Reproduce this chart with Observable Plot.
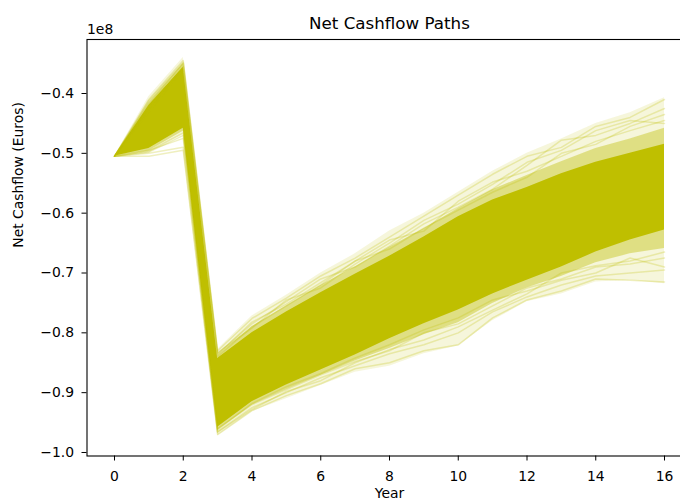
<!DOCTYPE html>
<html><head><meta charset="utf-8">
<script src="https://cdn.jsdelivr.net/npm/d3@7"></script>
<script src="https://cdn.jsdelivr.net/npm/@observablehq/plot@0.6"></script>
<style>
html,body{margin:0;padding:0;overflow:hidden;background:#fff;width:680px;height:502px}
#chart{width:680px;height:502px;overflow:hidden;position:relative}
</style></head><body><div id="chart"></div>
<script>
// Values in units of 1e8 Euros (axis offset "1e8")
const years = [0,1,2,3,4,5,6,7,8,9,10,11,12,13,14,15,16];
const xTicks = [0,2,4,6,8,10,12,14,16];
const yTicks = [-1.0,-0.9,-0.8,-0.7,-0.6,-0.5,-0.4];

// envelopes of the simulated paths
const faintHi = [-0.505,-0.405,-0.340,-0.828,-0.772,-0.737,-0.700,-0.668,-0.630,-0.600,-0.565,-0.530,-0.500,-0.476,-0.450,-0.432,-0.407];
const midHi   = [-0.505,-0.415,-0.350,-0.838,-0.790,-0.755,-0.721,-0.690,-0.657,-0.626,-0.592,-0.561,-0.537,-0.514,-0.492,-0.476,-0.458];
const coreHi  = [-0.505,-0.420,-0.356,-0.843,-0.800,-0.765,-0.733,-0.702,-0.672,-0.640,-0.606,-0.578,-0.557,-0.534,-0.515,-0.500,-0.485];
const coreLo  = [-0.505,-0.492,-0.458,-0.958,-0.915,-0.887,-0.862,-0.837,-0.810,-0.785,-0.762,-0.735,-0.712,-0.690,-0.665,-0.645,-0.628];
const midLo   = [-0.505,-0.496,-0.463,-0.963,-0.921,-0.895,-0.871,-0.847,-0.826,-0.803,-0.783,-0.751,-0.725,-0.706,-0.683,-0.668,-0.659];
const faintLo = [-0.505,-0.500,-0.468,-0.972,-0.932,-0.910,-0.888,-0.866,-0.856,-0.835,-0.822,-0.780,-0.748,-0.735,-0.715,-0.712,-0.718];

// individual outlying paths
const pathA = [-0.505,-0.410,-0.345,-0.830,-0.776,-0.742,-0.705,-0.675,-0.640,-0.605,-0.570,-0.535,-0.505,-0.490,-0.455,-0.440,-0.410];
const pathB = [-0.505,-0.425,-0.355,-0.835,-0.785,-0.748,-0.710,-0.690,-0.655,-0.618,-0.590,-0.560,-0.520,-0.478,-0.470,-0.450,-0.425];
const pathC = [-0.505,-0.430,-0.360,-0.840,-0.790,-0.755,-0.720,-0.680,-0.645,-0.630,-0.580,-0.548,-0.530,-0.505,-0.480,-0.462,-0.445];
const pathD = [-0.505,-0.505,-0.495,-0.970,-0.930,-0.905,-0.885,-0.860,-0.850,-0.830,-0.820,-0.775,-0.745,-0.730,-0.710,-0.712,-0.715];
const pathE = [-0.505,-0.500,-0.490,-0.965,-0.925,-0.900,-0.875,-0.855,-0.835,-0.820,-0.800,-0.765,-0.740,-0.720,-0.705,-0.700,-0.695];
const pathF = [-0.505,-0.495,-0.475,-0.960,-0.920,-0.895,-0.870,-0.848,-0.830,-0.800,-0.785,-0.755,-0.725,-0.710,-0.690,-0.685,-0.675];
const pathG = [-0.505,-0.418,-0.350,-0.836,-0.782,-0.752,-0.716,-0.680,-0.660,-0.625,-0.595,-0.565,-0.540,-0.500,-0.485,-0.455,-0.435];
const pathH = [-0.505,-0.412,-0.348,-0.833,-0.792,-0.745,-0.725,-0.685,-0.650,-0.612,-0.585,-0.552,-0.515,-0.495,-0.462,-0.445,-0.450];
const pathI = [-0.505,-0.498,-0.470,-0.962,-0.918,-0.890,-0.868,-0.842,-0.820,-0.795,-0.775,-0.745,-0.730,-0.712,-0.700,-0.675,-0.690];
const pathJ = [-0.505,-0.496,-0.466,-0.966,-0.928,-0.898,-0.880,-0.850,-0.828,-0.812,-0.790,-0.762,-0.735,-0.700,-0.688,-0.680,-0.665];

const COLOR = "#bfbf00";
const band = years.map((x, i) => ({year: x, faintHi: faintHi[i], faintLo: faintLo[i], midHi: midHi[i], midLo: midLo[i], coreHi: coreHi[i], coreLo: coreLo[i]}));
const paths = [pathA, pathB, pathC, pathD, pathE, pathF, pathG, pathH, pathI, pathJ]
  .flatMap((p, k) => p.map((v, i) => ({id: k, year: years[i], value: v})));

const chart = Plot.plot({
  width: 700,
  height: 502,
  marginLeft: 86.5,
  marginRight: 8.5,
  marginTop: 39,
  marginBottom: 46.5,
  style: {fontFamily: "DejaVu Sans", fontSize: "13.9px", color: "#000", background: "#fff", maxWidth: "none", overflow: "visible"},
  x: {domain: [-0.8, 16.8], ticks: xTicks, tickSize: 5, tickPadding: 10, tickFormat: d3.format("d"), label: null},
  y: {domain: [-1.00585, -0.30974], ticks: yTicks, tickSize: 5, tickPadding: 8, tickFormat: d3.format(".1f"), label: null},
  marks: [
    Plot.areaY(band, {x: "year", y1: "faintLo", y2: "faintHi", fill: COLOR, fillOpacity: 0.14}),
    Plot.areaY(band, {x: "year", y1: "midLo", y2: "midHi", fill: COLOR, fillOpacity: 0.4}),
    Plot.areaY(band, {x: "year", y1: "coreLo", y2: "coreHi", fill: COLOR, fillOpacity: 1}),
    Plot.line(paths, {x: "year", y: "value", z: "id", stroke: COLOR, strokeOpacity: 0.25, strokeWidth: 1.5}),
    Plot.frame({stroke: "#000", strokeWidth: 1.1}),
    Plot.text(["Net Cashflow Paths"], {text: d => d, frameAnchor: "top", lineAnchor: "bottom", dy: -10.7, fontSize: 16.7, fill: "#000"}),
    Plot.text(["1e8"], {text: d => d, frameAnchor: "top-left", textAnchor: "start", lineAnchor: "bottom", dy: -5.7, fontSize: 13.9, fill: "#000"}),
    Plot.text(["Year"], {text: d => d, frameAnchor: "bottom", lineAnchor: "bottom", dy: 42, fontSize: 13.9, fill: "#000"}),
    Plot.text(["Net Cashflow (Euros)"], {text: d => d, frameAnchor: "left", rotate: -90, lineAnchor: "bottom", dx: -64.2, fontSize: 13.9, fill: "#000"})
  ]
});
document.getElementById("chart").appendChild(chart);
</script>
</body></html>
